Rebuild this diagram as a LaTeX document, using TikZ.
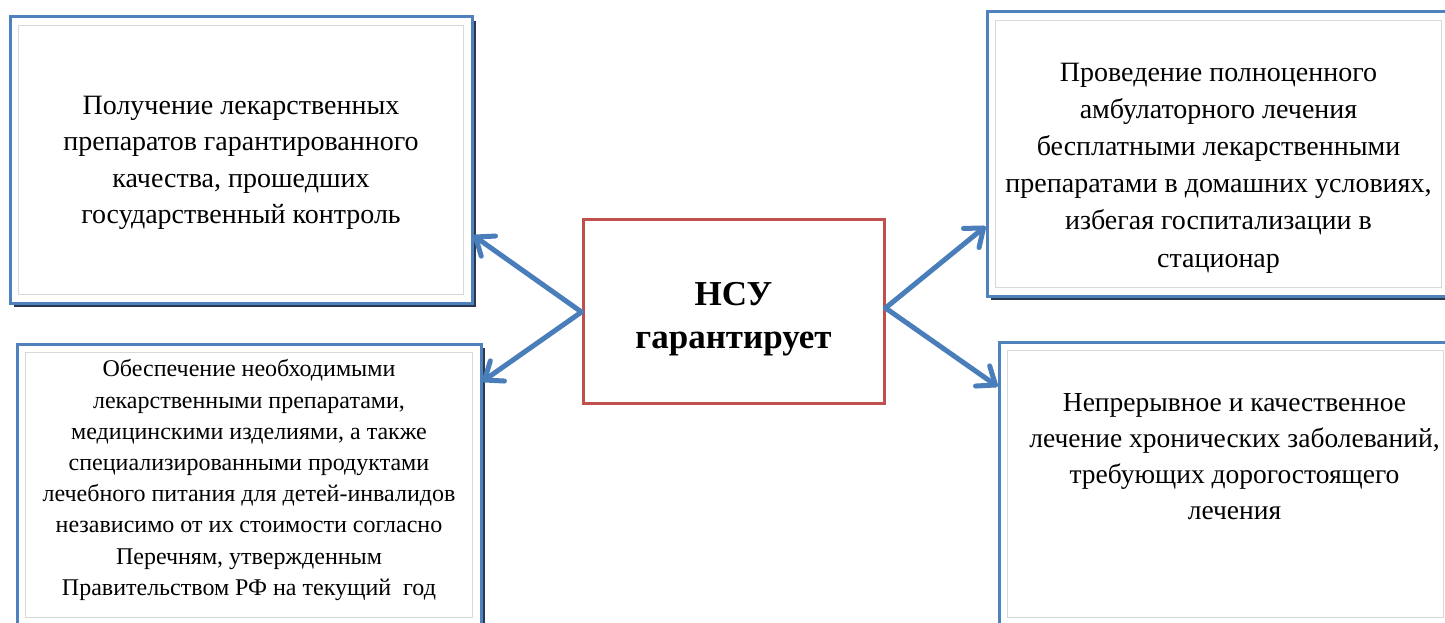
\documentclass[tikz,border=0pt]{standalone}
\usepackage{fontspec}
\setmainfont{Liberation Serif}
\usetikzlibrary{shadows,calc}
\definecolor{boxblue}{HTML}{4F81BD}
\definecolor{arrblue}{HTML}{4A7EBB}
\definecolor{boxred}{HTML}{C0504D}
\definecolor{shadowc}{HTML}{2B3850}
\definecolor{innergray}{HTML}{D8D8D8}
\tikzset{
  outerbox/.style={draw=boxblue, line width=3pt, fill=white, rectangle, inner sep=0pt,
    drop shadow={shadow xshift=4pt, shadow yshift=-4pt, fill=shadowc, opacity=1}},
  innerline/.style={draw=innergray, line width=1.2pt},
  txt/.style={align=center, inner sep=0pt, text=black},
  centerbox/.style={draw=boxred, line width=3pt, fill=white, rectangle, inner sep=0pt},
  arrline/.style={draw=arrblue, line width=5pt, line cap=round, line join=round},
}
\begin{document}
\begin{tikzpicture}[x=1pt, y=-1pt]
\useasboundingbox (0,0) rectangle (1445,623);
% boxes
\node[outerbox, minimum width=462pt, minimum height=286pt] (tl) at (241,160) {};
\node[outerbox, minimum width=464pt, minimum height=282pt] (bl) at (249,485) {};
\node[outerbox, minimum width=463pt, minimum height=284pt] (tr) at (1218.5,154) {};
\node[outerbox, minimum width=453pt, minimum height=284pt] (br) at (1225.5,484) {};
\foreach \b in {tl,bl,tr,br}{
  \draw[innerline] ($(\b.north west)+(10,10)$) rectangle ($(\b.south east)+(-10,-10)$);
}
\node[centerbox, minimum width=301pt, minimum height=184pt] (c) at (733.5,311) {};
% texts
\node[txt, font=\fontsize{28}{36.3}\selectfont] (ttl) at (241,163)
  {Получение лекарственных\\препаратов гарантированного\\качества, прошедших\\государственный контроль};
\node[txt, font=\fontsize{24}{31.2}\selectfont] (tbl) at (249,480)
  {Обеспечение необходимыми\\лекарственными препаратами,\\медицинскими изделиями, а также\\специализированными продуктами\\лечебного питания для детей-инвалидов\\независимо от их стоимости согласно\\Перечням, утвержденным\\Правительством РФ на текущий\ \ год};
\node[txt, font=\fontsize{28}{37.2}\selectfont] (ttr) at (1218.5,168)
  {Проведение полноценного\\амбулаторного лечения\\бесплатными лекарственными\\препаратами в домашних условиях,\\избегая госпитализации в\\стационар};
\node[txt, font=\fontsize{27.5}{36}\selectfont] (tbr) at (1234.5,457)
  {Непрерывное и качественное\\лечение хронических заболеваний,\\требующих дорогостоящего\\лечения};
\node[txt, font=\fontsize{35}{43}\selectfont\bfseries] (tc) at (733.5,319)
  {НСУ\\гарантирует};
% connectors
\coordinate (cl) at ([yshift=-1pt]c.west);
\coordinate (cr) at ([yshift=3pt]c.east);
\coordinate (ptl) at ([yshift=-77pt,xshift=2pt]tl.east);
\coordinate (pbl) at ([yshift=105pt,xshift=2pt]bl.east);
\coordinate (ptr) at ([yshift=-74pt,xshift=-2pt]tr.west);
\coordinate (pbr) at ([yshift=99pt,xshift=-2pt]br.west);
\foreach \s/\t in {cl/ptl, cl/pbl, cr/ptr, cr/pbr}{
  \draw[arrline] (\s) -- (\t);
  \draw[arrline] ($(\t)!20pt!38:(\s)$) -- (\t) -- ($(\t)!20pt!-38:(\s)$);
}
\end{tikzpicture}
\end{document}
